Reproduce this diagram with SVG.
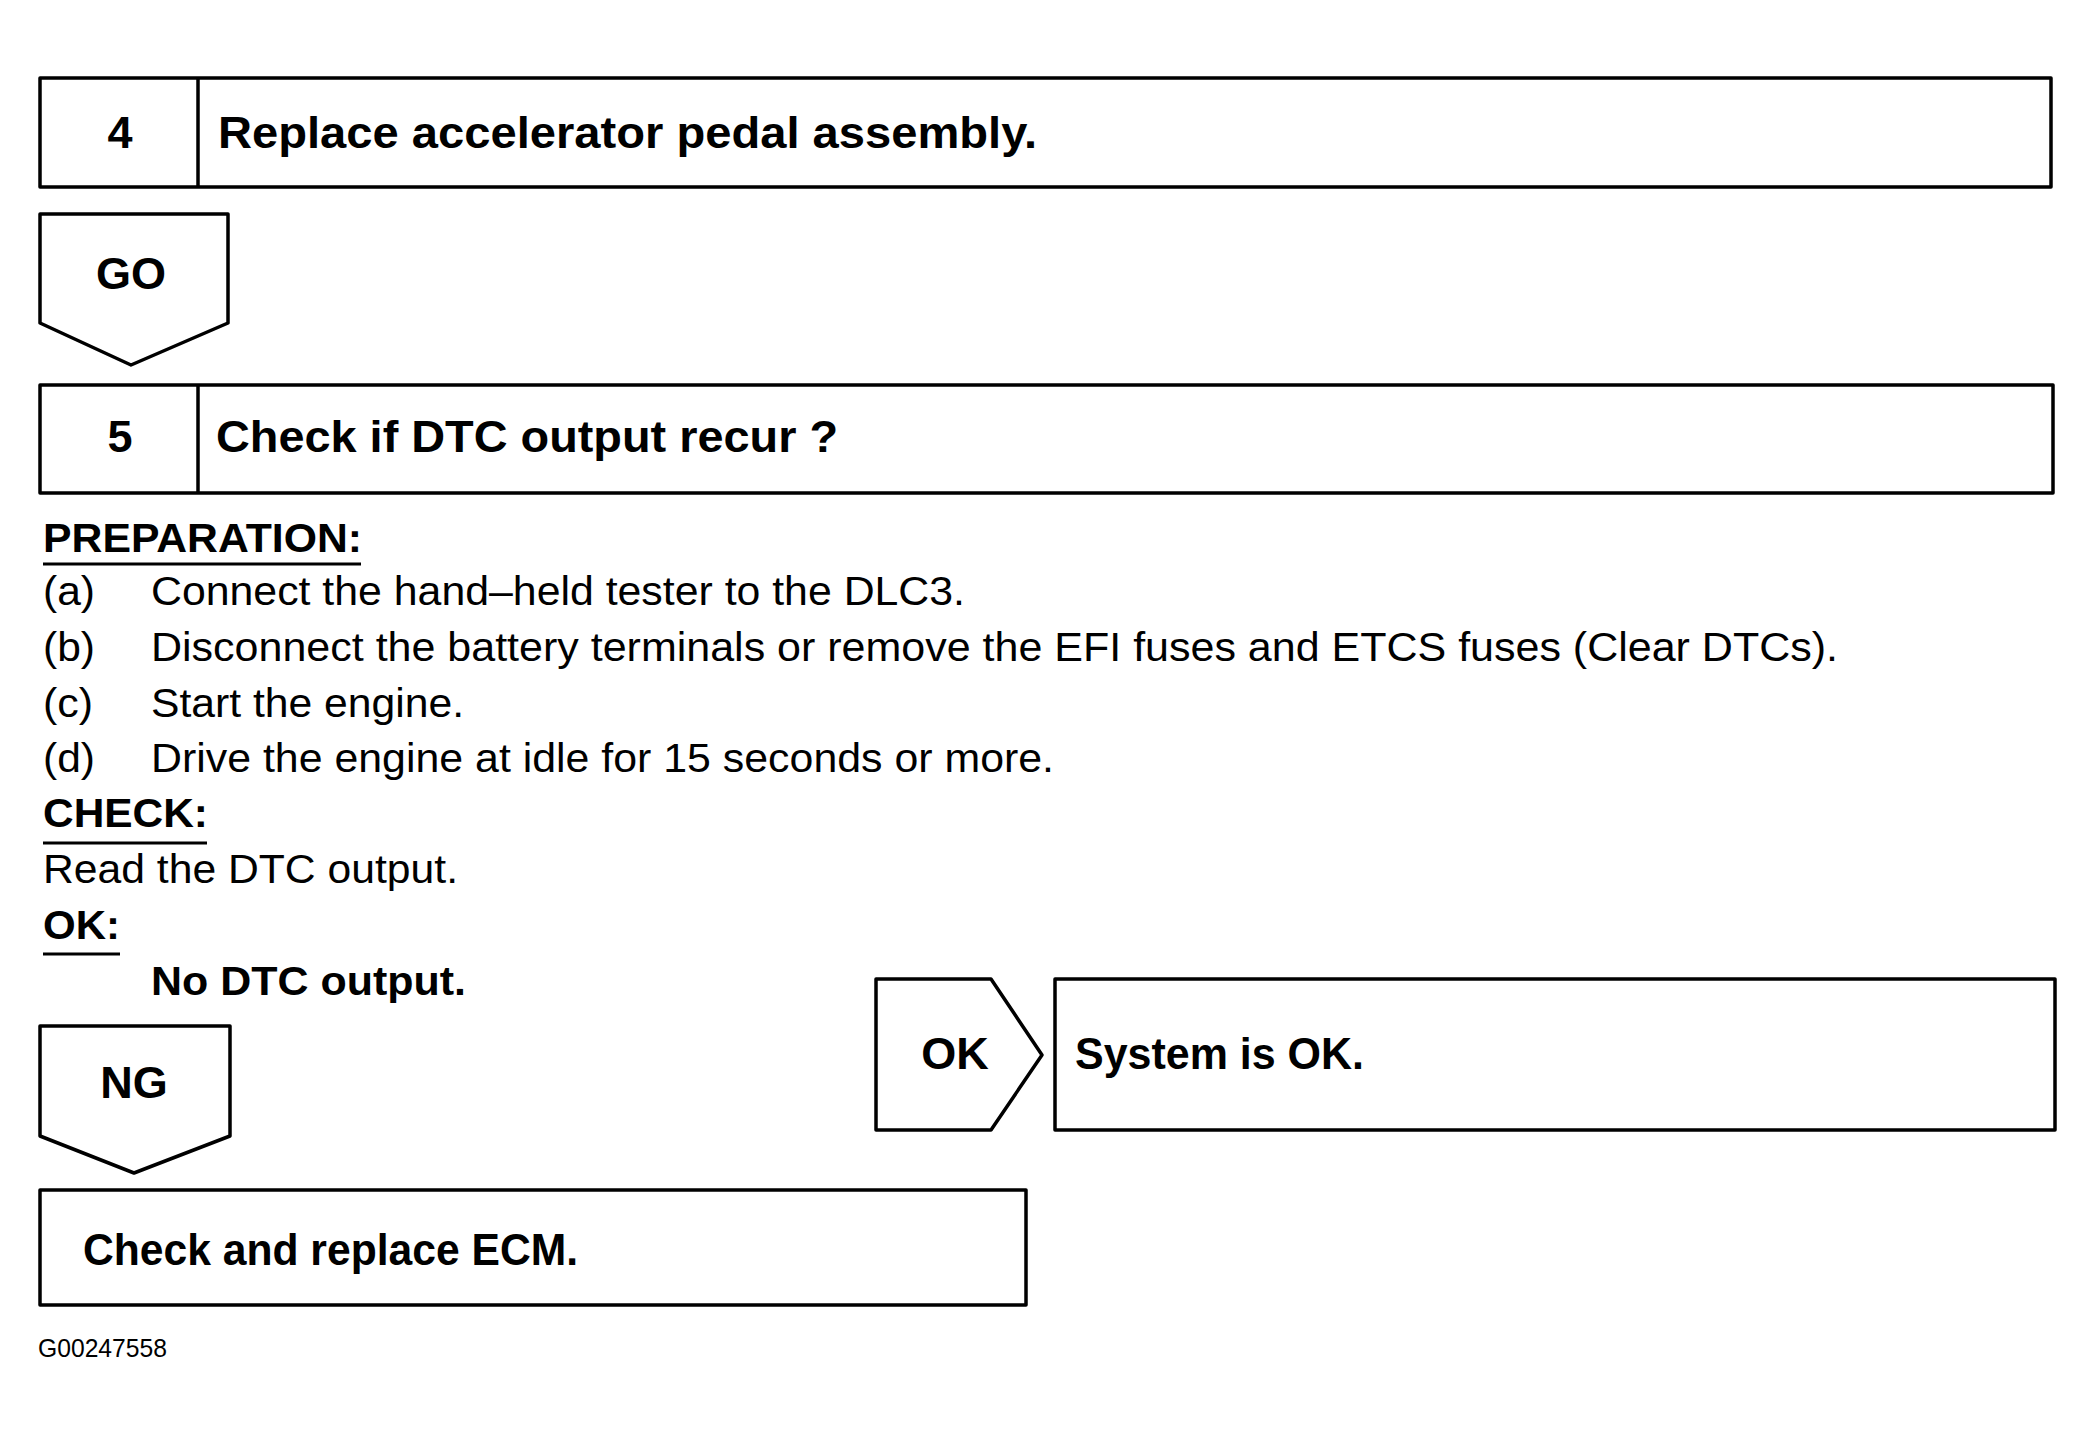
<svg xmlns="http://www.w3.org/2000/svg" width="2095" height="1433" viewBox="0 0 2095 1433">
<style>
.box{fill:#fff;stroke:#000;stroke-width:3.5;stroke-linejoin:round}
.ln{stroke:#000;stroke-width:3}
.hb{font-family:"Liberation Sans",Arial,sans-serif;font-weight:bold;font-size:45px;fill:#000}
.sb{font-family:"Liberation Sans",Arial,sans-serif;font-weight:bold;font-size:40px;fill:#000}
.tx{font-family:"Liberation Sans",Arial,sans-serif;font-size:40px;fill:#000}
.sm{font-family:"Liberation Sans",Arial,sans-serif;font-size:25px;fill:#000}
.c{text-anchor:middle}
</style>
<rect width="2095" height="1433" fill="#fff"/>
<g id="step4">
<rect class="box" x="40" y="78" width="2011" height="109"/>
<line class="box" x1="198" y1="78" x2="198" y2="187"/>
<text class="hb c" x="120" y="148">4</text>
<text class="hb" x="218" y="148" textLength="819" lengthAdjust="spacingAndGlyphs">Replace accelerator pedal assembly.</text>
</g>
<g id="step5">
<rect class="box" x="40" y="385" width="2013" height="108"/>
<line class="box" x1="198" y1="385" x2="198" y2="493"/>
<text class="hb c" x="120" y="452">5</text>
<text class="hb" x="216" y="452" textLength="622" lengthAdjust="spacingAndGlyphs">Check if DTC output recur ?</text>
</g>
<g id="details">
<text class="sb" x="43" y="552" textLength="319" lengthAdjust="spacingAndGlyphs">PREPARATION:</text>
<line class="ln" x1="43" y1="564" x2="361" y2="564"/>
<text class="tx" x="43" y="605" textLength="52" lengthAdjust="spacingAndGlyphs">(a)</text>
<text class="tx" x="151" y="605" textLength="814" lengthAdjust="spacingAndGlyphs">Connect the hand–held tester to the DLC3.</text>
<text class="tx" x="43" y="661" textLength="52" lengthAdjust="spacingAndGlyphs">(b)</text>
<text class="tx" x="151" y="661" textLength="1687" lengthAdjust="spacingAndGlyphs">Disconnect the battery terminals or remove the EFI fuses and ETCS fuses (Clear DTCs).</text>
<text class="tx" x="43" y="717" textLength="50" lengthAdjust="spacingAndGlyphs">(c)</text>
<text class="tx" x="151" y="717" textLength="313" lengthAdjust="spacingAndGlyphs">Start the engine.</text>
<text class="tx" x="43" y="772" textLength="52" lengthAdjust="spacingAndGlyphs">(d)</text>
<text class="tx" x="151" y="772" textLength="903" lengthAdjust="spacingAndGlyphs">Drive the engine at idle for 15 seconds or more.</text>
<text class="sb" x="43" y="827" textLength="165" lengthAdjust="spacingAndGlyphs">CHECK:</text>
<line class="ln" x1="43" y1="843" x2="207" y2="843"/>
<text class="tx" x="43" y="883" textLength="415" lengthAdjust="spacingAndGlyphs">Read the DTC output.</text>
<text class="sb" x="43" y="939" textLength="77" lengthAdjust="spacingAndGlyphs">OK:</text>
<line class="ln" x1="43" y1="954" x2="120" y2="954"/>
<text class="sb" x="151" y="995" textLength="315" lengthAdjust="spacingAndGlyphs">No DTC output.</text>
</g>
<g id="connectors">
<g id="go">
<polygon class="box" points="40,214 228,214 228,323 131,365 40,323"/>
<text class="hb c" x="131" y="289">GO</text>
</g>
<g id="ng">
<polygon class="box" points="40,1026 230,1026 230,1136 134,1173 40,1136"/>
<text class="hb c" x="134" y="1098">NG</text>
</g>
<g id="ok">
<polygon class="box" points="876,979 991,979 1042,1055 991,1130 876,1130"/>
<text class="hb c" x="955" y="1069">OK</text>
</g>
</g>
<g id="system-ok">
<rect class="box" x="1055" y="979" width="1000" height="151"/>
<text class="hb" x="1075" y="1069" textLength="289" lengthAdjust="spacingAndGlyphs">System is OK.</text>
</g>
<g id="replace-ecm">
<rect class="box" x="40" y="1190" width="986" height="115"/>
<text class="hb" x="83" y="1265" textLength="495" lengthAdjust="spacingAndGlyphs">Check and replace ECM.</text>
</g>
<text class="sm" x="38" y="1357" textLength="129" lengthAdjust="spacingAndGlyphs">G00247558</text>
</svg>
